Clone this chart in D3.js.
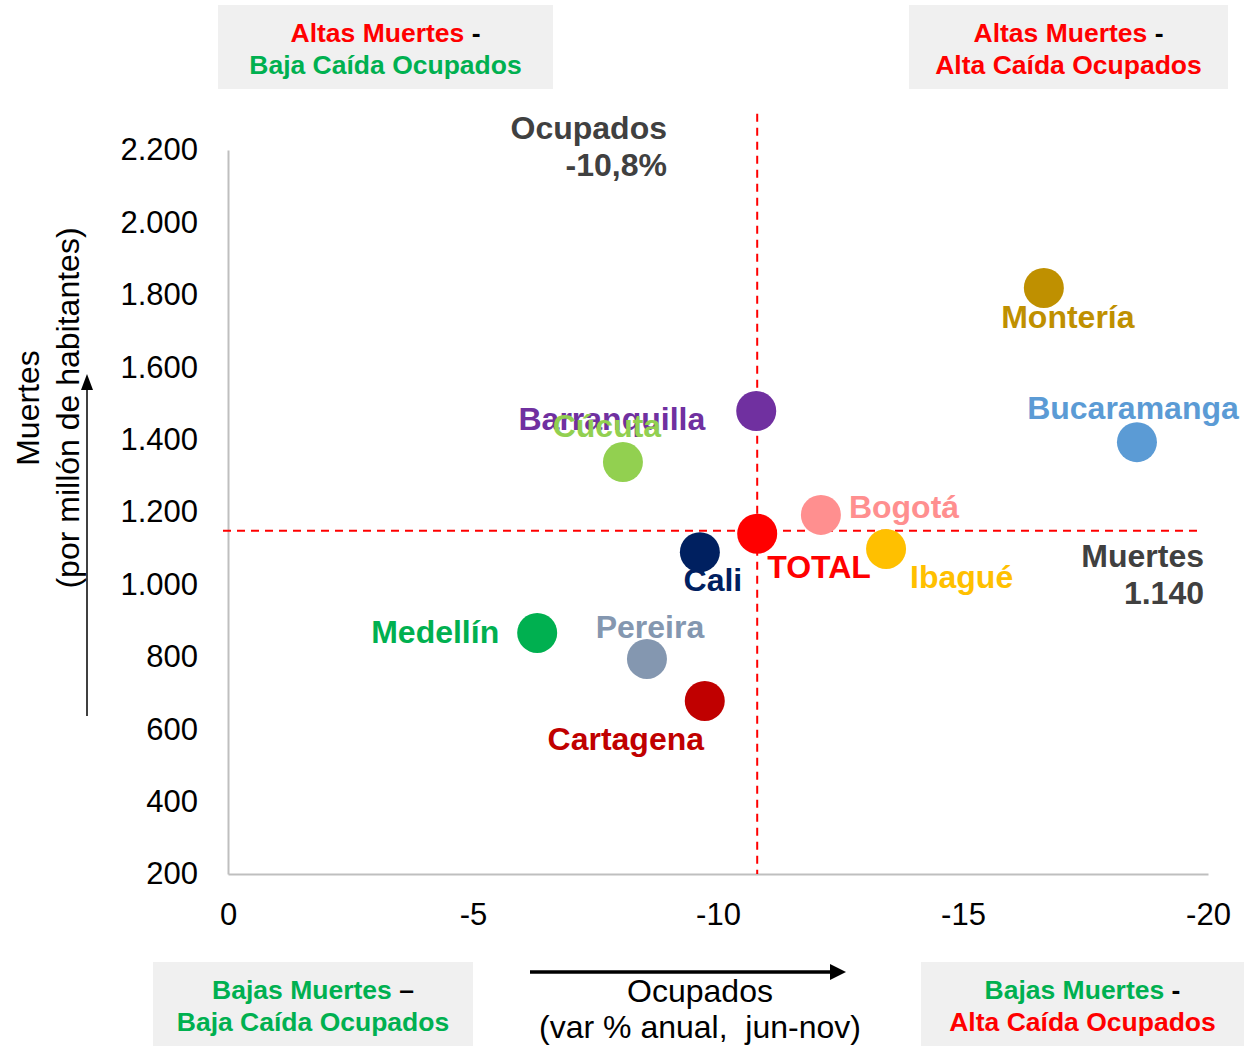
<!DOCTYPE html>
<html>
<head>
<meta charset="utf-8">
<script src="https://cdn.jsdelivr.net/npm/d3@7"></script>
<style>
  html, body { margin: 0; padding: 0; background: #fff; }
  svg { display: block; font-family: "Liberation Sans", Arial, sans-serif; }
</style>
</head>
<body>
<svg id="chart" width="1244" height="1046"></svg>
<script>
// Ciudades: variación anual de ocupados (jun-nov, %) y muertes por millón de habitantes
const cities = ["Montería", "Bucaramanga", "Barranquilla", "Cúcuta", "Bogotá", "TOTAL",
                "Ibagué", "Cali", "Medellín", "Pereira", "Cartagena"];
const ocupados = [-16.65, -18.55, -10.78, -8.06, -12.1, -10.8, -13.43, -9.63, -6.31, -8.55, -9.73];
const muertes  = [1819, 1393, 1479, 1338, 1192, 1140, 1098, 1089, 866, 794, 678];
const colors   = ["#BF9000", "#5B9BD5", "#7030A0", "#92D050", "#FF8F8F", "#FF0000",
                  "#FFC000", "#002060", "#00B050", "#8497B0", "#C00000"];

const xTicks = [0, -5, -10, -15, -20];
const yTicks = [200, 400, 600, 800, 1000, 1200, 1400, 1600, 1800, 2000, 2200];

// Reference values for the quadrant split
const refOcupados = -10.8;
const refMuertes = 1140;

// Label placement per city: [dx, dy, anchor] relative to the marker centre
const labelPlacement = {
  "Montería":     [24, 40, "middle"],
  "Bucaramanga":  [-4, -23, "middle"],
  "Barranquilla": [-51, 19, "end"],
  "Cúcuta":       [-16, -25, "middle"],
  "Bogotá":       [28, 3, "start"],
  "TOTAL":        [10, 44, "start"],
  "Ibagué":       [24, 39, "start"],
  "Cali":         [13, 39, "middle"],
  "Medellín":     [-38, 10, "end"],
  "Pereira":      [3, -21, "middle"],
  "Cartagena":    [-79, 49, "middle"]
};

const svg = d3.select("#chart");
const margin = {left: 228, right: 36, top: 150, bottom: 172};
const W = 1244, H = 1046;

const x = d3.scaleLinear().domain([0, -20]).range([margin.left, W - margin.right]);
const y = d3.scaleLinear().domain([200, 2200]).range([H - margin.bottom, margin.top]);

const loc = d3.formatLocale({decimal: ",", thousands: ".", grouping: [3], currency: ["", ""], minus: "-"});
const fmt = loc.format(",d");
const fmtPct = v => loc.format(".1f")(v) + "%";

// Axes
const gx = svg.append("g")
  .attr("transform", `translate(0,${y(200)})`)
  .call(d3.axisBottom(x).tickValues(xTicks).tickFormat(fmt).tickSize(0).tickPadding(29));
const gy = svg.append("g")
  .attr("transform", `translate(${x(0)},0)`)
  .call(d3.axisLeft(y).tickValues(yTicks).tickFormat(fmt).tickSize(0).tickPadding(30));

[gx, gy].forEach(g => {
  g.select(".domain").attr("stroke", "#BFBFBF").attr("stroke-width", 2);
  g.selectAll("text").attr("font-size", 31).attr("fill", "#000")
    .attr("font-family", "'Liberation Sans', Arial, sans-serif");
});

// Reference lines
svg.append("line")
  .attr("x1", x(0) - 5).attr("x2", x(-19.8))
  .attr("y1", y(refMuertes) - 3).attr("y2", y(refMuertes) - 3)
  .attr("stroke", "#FF0000").attr("stroke-width", 2).attr("stroke-dasharray", "8,6");
svg.append("line")
  .attr("x1", x(refOcupados)).attr("x2", x(refOcupados))
  .attr("y1", y(2300)).attr("y2", y(200))
  .attr("stroke", "#FF0000").attr("stroke-width", 2).attr("stroke-dasharray", "8,6");

// Markers
const pts = cities.map((c, i) => ({city: c, x: ocupados[i], y: muertes[i], color: colors[i]}));
svg.append("g").selectAll("circle").data(pts).join("circle")
  .attr("cx", d => x(d.x)).attr("cy", d => y(d.y)).attr("r", 20)
  .attr("fill", d => d.color);

// City labels
svg.append("g").selectAll("text").data(pts).join("text")
  .attr("x", d => x(d.x) + labelPlacement[d.city][0])
  .attr("y", d => y(d.y) + labelPlacement[d.city][1])
  .attr("text-anchor", d => labelPlacement[d.city][2])
  .attr("font-size", 32).attr("font-weight", "bold")
  .attr("fill", d => d.color)
  .text(d => d.city);

// Reference annotations
const annot = (lines, ax, ay) => {
  const t = svg.append("text").attr("text-anchor", "end").attr("font-size", 32)
    .attr("font-weight", "bold").attr("fill", "#404040");
  lines.forEach((l, i) => t.append("tspan").attr("x", ax).attr("y", ay + i * 37).text(l));
};
annot(["Ocupados", fmtPct(refOcupados)], 667, 139);
annot(["Muertes", fmt(refMuertes)], 1204, 567);

// Quadrant boxes
const boxes = [
  {x: 218, y: 5,   w: 335, h: 84, l1: [["Altas Muertes", "#FF0000"], [" -", "#000"]], l2: ["Baja Caída Ocupados", "#00B050"]},
  {x: 909, y: 5,   w: 319, h: 84, l1: [["Altas Muertes", "#FF0000"], [" -", "#000"]], l2: ["Alta Caída Ocupados", "#FF0000"]},
  {x: 153, y: 962, w: 320, h: 84, l1: [["Bajas Muertes", "#00B050"], [" –", "#000"]], l2: ["Baja Caída Ocupados", "#00B050"]},
  {x: 921, y: 962, w: 323, h: 84, l1: [["Bajas Muertes", "#00B050"], [" -", "#000"]], l2: ["Alta Caída Ocupados", "#FF0000"]}
];
boxes.forEach(b => {
  svg.append("rect").attr("x", b.x).attr("y", b.y).attr("width", b.w).attr("height", b.h).attr("fill", "#F0F0F0");
  const cx = b.x + b.w / 2;
  const t1 = svg.append("text").attr("x", cx).attr("y", b.y + 37).attr("text-anchor", "middle")
    .attr("font-size", 26.5).attr("font-weight", "bold");
  b.l1.forEach(p => t1.append("tspan").attr("fill", p[1]).text(p[0]));
  svg.append("text").attr("x", cx).attr("y", b.y + 69).attr("text-anchor", "middle")
    .attr("font-size", 26.5).attr("font-weight", "bold").attr("fill", b.l2[1]).text(b.l2[0]);
});

// X axis title with arrow
svg.append("line").attr("x1", 530).attr("x2", 832).attr("y1", 972).attr("y2", 972)
  .attr("stroke", "#000").attr("stroke-width", 3.5);
svg.append("path").attr("d", "M846,972 L830,964 L830,980 Z").attr("fill", "#000");
svg.append("text").attr("x", 700).attr("y", 1002).attr("text-anchor", "middle")
  .attr("font-size", 32).attr("fill", "#000").text("Ocupados");
svg.append("text").attr("x", 700).attr("y", 1038).attr("text-anchor", "middle")
  .attr("font-size", 32).attr("fill", "#000").attr("xml:space", "preserve")
  .text("(var % anual,  jun-nov)");

// Y axis title with arrow
svg.append("line").attr("x1", 87).attr("x2", 87).attr("y1", 716).attr("y2", 388)
  .attr("stroke", "#000").attr("stroke-width", 1.5);
svg.append("path").attr("d", "M87,374 L81,390 L93,390 Z").attr("fill", "#000");
const yt = svg.append("text").attr("transform", "translate(0,408) rotate(-90)")
  .attr("text-anchor", "middle").attr("font-size", 32).attr("fill", "#000");
yt.append("tspan").attr("x", 0).attr("y", 39).text("Muertes");
yt.append("tspan").attr("x", 0).attr("y", 79).text("(por millón de habitantes)");
</script>
</body>
</html>
